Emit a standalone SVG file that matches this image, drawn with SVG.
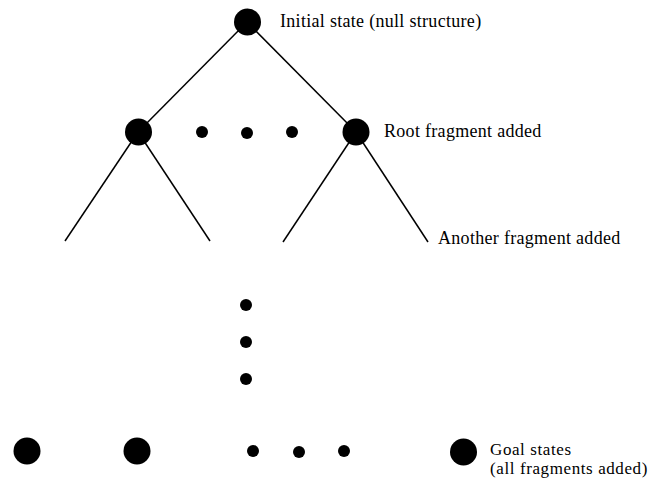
<svg xmlns="http://www.w3.org/2000/svg" width="652" height="478" viewBox="0 0 652 478">
<style>
.e{stroke:#000;stroke-width:1.5;fill:none}
.n{fill:#000}
text{font-family:"Liberation Serif","Times New Roman",serif;font-size:18px;letter-spacing:0.3px;fill:#000}
text.g{font-size:17px;letter-spacing:0.6px}
</style>
<rect width="652" height="478" fill="#fff"/>
<g id="connectors">
<line class="e" x1="247" y1="22" x2="138" y2="132"/>
<line class="e" x1="247" y1="22" x2="356" y2="132"/>
<line class="e" x1="138" y1="132" x2="65" y2="241"/>
<line class="e" x1="138" y1="132" x2="210" y2="241"/>
<line class="e" x1="356" y1="132" x2="283" y2="242"/>
<line class="e" x1="356" y1="132" x2="428" y2="242"/>
</g>
<g id="initial"><circle class="n" cx="247.5" cy="22" r="13.5"/><text x="280" y="27">Initial state (null structure)</text></g>
<g id="left2"><circle class="n" cx="138.5" cy="132" r="13.5"/></g>
<g id="dots2"><circle class="n" cx="202" cy="132" r="6"/><circle class="n" cx="247" cy="133" r="6"/><circle class="n" cx="292" cy="132" r="6"/></g>
<g id="root"><circle class="n" cx="356" cy="132" r="13.5"/><text x="384" y="137">Root fragment added</text></g>
<g id="another"><text x="438" y="244">Another fragment added</text></g>
<g id="vdots"><circle class="n" cx="246" cy="305" r="6"/><circle class="n" cx="246" cy="342" r="6"/><circle class="n" cx="246" cy="379" r="6"/></g>
<g id="goal1"><circle class="n" cx="27" cy="451" r="13.5"/></g>
<g id="goal2"><circle class="n" cx="137" cy="451" r="13.5"/></g>
<g id="dots3"><circle class="n" cx="253" cy="451" r="6"/><circle class="n" cx="299" cy="452" r="6"/><circle class="n" cx="344" cy="451" r="6"/></g>
<g id="goal3"><circle class="n" cx="463.5" cy="452" r="13.5"/><text class="g" x="490" y="454.5">Goal states</text><text class="g" x="490" y="473.8">(all fragments added)</text></g>
</svg>
